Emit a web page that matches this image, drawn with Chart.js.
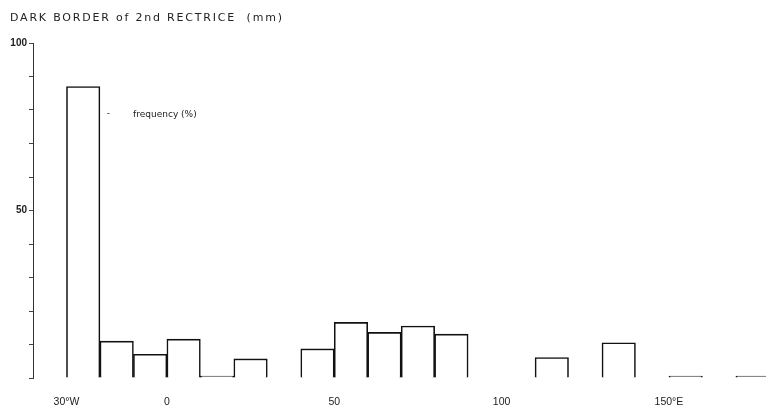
<!DOCTYPE html>
<html>
<head>
<meta charset="utf-8">
<script src="https://cdn.jsdelivr.net/npm/chart.js@4"></script>
<style>
    html, body { margin: 0; padding: 0; background: #fff; }
    #wrap { width: 766px; height: 405px; }
</style>
</head>
<body>
<div id="wrap"><canvas id="chart"></canvas></div>
<script>
// --- DATA ---
// left edge of each 10-degree longitude bin (W negative)
const binStarts = [-30, -20, -10, 0, 10, 20, 30, 40, 50, 60, 70, 80, 90, 100, 110, 120, 130, 140, 150, 160, 170];
// frequency (%) per bin, null = no bar
const frequency = [87, 11, 7.1, 11.6, 0.6, 5.7, null, 8.7, 16.6, 13.6, 15.5, 13.1, null, null, 6.1, null, 10.5, null, 0.6, null, 0.6];
const xTickValues = [-30, 0, 50, 100, 150];
const xTickLabels = ['30°W', '0', '50', '100', '150°E'];
const yTickValues = [50, 100];
const yTickLabels = ['50', '100'];
const BIN_WIDTH = 10;

const TITLE = 'DARK BORDER of 2nd RECTRICE  (mm)';
const FONT = "'DejaVu Sans', 'Liberation Sans', sans-serif";
const NUM_FONT = "'Liberation Sans', Arial, sans-serif";

// title (letter-spaced like the original) + "- frequency (%)" note
const textPlugin = {
    id: 'texts',
    afterDraw(chart) {
        const { ctx, scales } = chart;
        ctx.save();
        ctx.fillStyle = '#222';
        ctx.textBaseline = 'middle';
        ctx.font = `11px ${FONT}`;
        ctx.letterSpacing = '1.8px';
        ctx.fillText(TITLE, 10, 18);
        ctx.letterSpacing = '0px';
        const y = scales.y.getPixelForValue(78.5);
        ctx.font = `9px ${FONT}`;
        ctx.fillText('-', scales.x.getPixelForValue(-18), y - 1);
        ctx.fillText('frequency (%)', scales.x.getPixelForValue(-10.1), y);
        ctx.restore();
    }
};

new Chart(document.getElementById('chart'), {
    type: 'bar',
    data: {
        datasets: [{
            data: binStarts.map((s, i) => ({ x: s + BIN_WIDTH / 2, y: frequency[i] })),
            backgroundColor: '#fff',
            borderColor: '#111',
            borderWidth: 1.6,
            barPercentage: 1,
            categoryPercentage: 1
        }]
    },
    options: {
        responsive: true,
        maintainAspectRatio: false,
        animation: false,
        layout: { padding: { left: 10, right: 0, top: 43, bottom: 0 } },
        plugins: {
            legend: { display: false },
            tooltip: { enabled: false },
            title: { display: false }
        },
        scales: {
            x: {
                type: 'linear',
                offset: false,
                min: -40,
                max: 179,
                grid: { display: false, offset: false },
                border: { display: false },
                afterBuildTicks: (scale) => { scale.ticks = xTickValues.map(v => ({ value: v })); },
                afterFit: (scale) => { scale.height = 27; },
                ticks: {
                    autoSkip: false,
                    maxRotation: 0,
                    padding: 10,
                    color: '#222',
                    font: { family: NUM_FONT, size: 10.5 },
                    callback: (v) => xTickLabels[xTickValues.indexOf(v)]
                }
            },
            y: {
                min: 0,
                max: 100,
                grid: { drawOnChartArea: false, tickLength: 4, color: '#444' },
                border: { color: '#333', dash: [7, 5] },
                afterFit: (scale) => { scale.width = 23; },
                ticks: {
                    stepSize: 10,
                    padding: 2,
                    color: '#222',
                    font: { family: NUM_FONT, size: 10, weight: 'bold' },
                    callback: (v) => {
                        const i = yTickValues.indexOf(v);
                        return i >= 0 ? yTickLabels[i] : '';
                    }
                }
            }
        }
    },
    plugins: [textPlugin]
});
</script>
</body>
</html>
